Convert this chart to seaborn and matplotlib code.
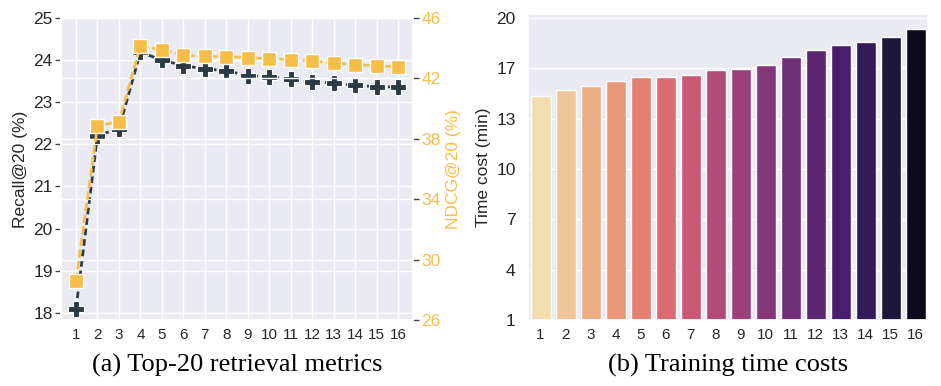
import numpy as np
import pandas as pd
import matplotlib
matplotlib.use("Agg")
import matplotlib.pyplot as plt
import seaborn as sns

# ---- data ----
layers = list(range(1, 17))
recall = [18.10, 22.21, 22.37, 24.19, 24.00, 23.87, 23.79, 23.75,
          23.63, 23.60, 23.56, 23.49, 23.46, 23.40, 23.37, 23.36]
ndcg = [28.6, 38.86, 39.14, 44.13, 43.91, 43.54, 43.47, 43.43,
        43.38, 43.30, 43.25, 43.16, 43.03, 42.92, 42.84, 42.77]
time_cost = [15.12, 15.45, 15.70, 16.02, 16.27, 16.31, 16.44, 16.73,
             16.77, 17.02, 17.53, 18.01, 18.28, 18.47, 18.78, 19.33]
recall_ticks = [18, 19, 20, 21, 22, 23, 24, 25]
ndcg_ticks = [26, 30, 34, 38, 42, 46]
time_tick_labels = ["1", "4", "7", "10", "13", "17", "20"]
caption_a = "(a) Top-20 retrieval metrics"
caption_b = "(b) Training time costs"

sns.set_theme(style="darkgrid")
plt.rcParams["font.family"] = ["Liberation Sans", "DejaVu Sans"]

DARK = "#2B3A45"
ORANGE = "#F6BE49"
TXT = "#262626"

fig = plt.figure(figsize=(9.41, 3.86), dpi=100)
ax = fig.add_axes([61 / 941, 1 - 320 / 386, 352 / 941, 302 / 386])
axb = fig.add_axes([528 / 941, 1 - 320 / 386, 400 / 941, 306 / 386])

df = pd.DataFrame({"layer": layers, "recall": recall, "ndcg": ndcg,
                   "time": time_cost, "cat": [str(l) for l in layers]})

# ---- left panel ----
sns.lineplot(data=df, x="layer", y="recall", ax=ax, color=DARK, lw=2,
             marker="P", markersize=11.5, markeredgecolor="white",
             markeredgewidth=0.8, linestyle=(0, (2.4, 1.4)))
ax2 = ax.twinx()
sns.lineplot(data=df, x="layer", y="ndcg", ax=ax2, color=ORANGE, lw=2,
             marker="s", markersize=9.5, markeredgecolor="white",
             markeredgewidth=1, linestyle=(0, (3, 1.2)))
ax.set_xlim(0.3, 16.7)
ax.set_ylim(17.83, 25)
ax2.set_ylim(26, 46)
ax.set_xticks(layers)
ax.set_xticklabels([str(l) for l in layers], fontsize=11, color=TXT)
ax.set_yticks(recall_ticks)
ax.set_yticklabels([str(t) for t in recall_ticks], fontsize=12.5, color=TXT)
ax2.set_yticks(ndcg_ticks)
ax2.set_yticklabels([str(t) for t in ndcg_ticks], fontsize=12.5, color=ORANGE)
ax.tick_params(axis="y", length=4, width=1, color="#444444", pad=2)
ax2.tick_params(axis="y", length=4, width=1, color="#444444", pad=2)
ax.tick_params(axis="x", length=0, pad=6)
ax.set_xlabel("")
ax.set_ylabel("Recall@20 (%)", fontsize=12.5, color=TXT, labelpad=4)
ax2.set_ylabel("NDCG@20 (%)", fontsize=12.5, color=ORANGE, labelpad=4)
ax2.grid(True, color="white")

# ---- right panel ----
sns.barplot(data=df, x="cat", y="time", hue="cat", palette="magma_r",
            legend=False, ax=axb, width=0.8)
axb.set_ylim(1, 20.25)
axb.set_yticks(np.linspace(1, 20, len(time_tick_labels)))
axb.set_yticklabels(time_tick_labels, fontsize=12.5, color=TXT)
axb.set_xticks(range(len(layers)))
axb.set_xticklabels([str(l) for l in layers], fontsize=11, color=TXT)
axb.tick_params(axis="both", length=0)
axb.tick_params(axis="y", pad=9)
axb.tick_params(axis="x", pad=6)
axb.set_xlabel("")
axb.set_ylabel("Time cost (min)", fontsize=12.5, color=TXT, labelpad=4)

# ---- captions ----
fig.text((61 + 413) / 2 / 941, 0.052, caption_a, ha="center", va="center",
         fontsize=19, family=["Liberation Serif", "DejaVu Serif"], color="black")
fig.text((528 + 928) / 2 / 941, 0.052, caption_b, ha="center", va="center",
         fontsize=19, family=["Liberation Serif", "DejaVu Serif"], color="black")

fig.savefig("out.png", dpi=100)
